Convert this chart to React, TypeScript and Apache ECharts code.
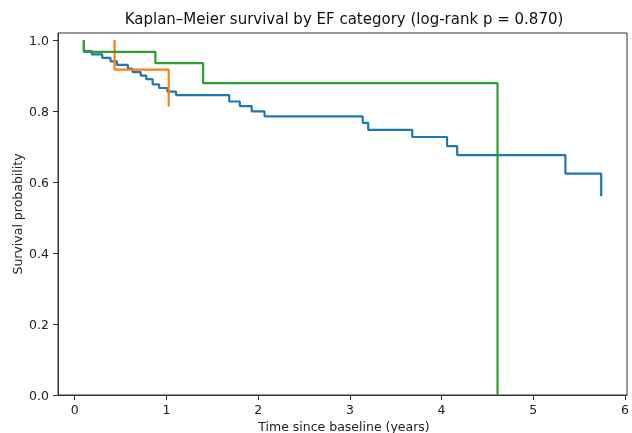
import React, { useEffect, useRef } from "react";
import * as echarts from "echarts";

const titleText = "Kaplan–Meier survival by EF category (log-rank p = 0.870)";
const xLabel = "Time since baseline (years)";
const yLabel = "Survival probability";

const xTicks = [0, 1, 2, 3, 4, 5, 6];
const yTicks = [0, 0.2, 0.4, 0.6, 0.8, 1.0];

// Blue group (C0)
const blueTimes = [0.10, 0.10, 0.185, 0.30, 0.39, 0.46, 0.58, 0.63, 0.72, 0.78, 0.85, 0.92, 1.01, 1.105, 1.685, 1.80, 1.93, 2.07, 3.14, 3.20, 3.68, 4.06, 4.17, 5.35, 5.74];
const blueSurv = [1.0, 0.969, 0.96, 0.95, 0.94, 0.93, 0.92, 0.91, 0.90, 0.89, 0.875, 0.865, 0.855, 0.845, 0.827, 0.814, 0.799, 0.785, 0.767, 0.747, 0.727, 0.701, 0.676, 0.624, 0.56];

// Orange group (C1)
const orangeTimes = [0.435, 0.435, 1.025];
const orangeSurv = [1.0, 0.917, 0.813];

// Green group (C2)
const greenTimes = [0.10, 0.10, 0.88, 1.40, 4.61];
const greenSurv = [1.0, 0.967, 0.935, 0.879, 0.0];

const FONT = "DejaVu Sans";

function pairs(t: number[], s: number[]) {
  return t.map((v, i) => [v, s[i]]);
}

export default function App() {
  const ref = useRef<HTMLDivElement>(null);
  useEffect(() => {
    if (!ref.current) return;
    const chart = echarts.init(ref.current, undefined, { renderer: "svg" });
    const mk = (name: string, data: number[][], color: string) => ({
      name,
      type: "line",
      step: "end",
      data,
      showSymbol: false,
      symbol: "none",
      lineStyle: { width: 2.2, color },
      itemStyle: { color },
      z: 2,
    });
    chart.setOption({
      animation: false,
      textStyle: { fontFamily: FONT },
      grid: {
        left: 58,
        right: 4,
        top: 33,
        bottom: 38,
        show: true,
        borderColor: "#333",
        borderWidth: 1,
        backgroundColor: "transparent",
        containLabel: false,
      },
      xAxis: {
        type: "value",
        min: -0.182,
        max: 6.022,
        splitLine: { show: false },
        axisLine: { show: true, onZero: false, lineStyle: { color: "#333", width: 1 } },
        axisTick: { show: true, inside: false, length: 5, customValues: xTicks, lineStyle: { color: "#333" } },
        axisLabel: {
          customValues: xTicks,
          margin: 8,
          fontSize: 12.5,
          color: "#222",
          fontFamily: FONT,
          formatter: (v: number) => String(v),
        },
      },
      yAxis: {
        type: "value",
        min: 0,
        max: 1.02,
        splitLine: { show: false },
        axisLine: { show: true, onZero: false, lineStyle: { color: "#333", width: 1 } },
        axisTick: { show: true, inside: false, length: 5, customValues: yTicks, lineStyle: { color: "#333" } },
        axisLabel: {
          customValues: yTicks,
          margin: 9,
          fontSize: 12.5,
          color: "#222",
          fontFamily: FONT,
          formatter: (v: number) => v.toFixed(1),
        },
      },
      series: [
        mk("Blue", pairs(blueTimes, blueSurv), "#1f77b4"),
        mk("Orange", pairs(orangeTimes, orangeSurv), "#ff7f0e"),
        mk("Green", pairs(greenTimes, greenSurv), "#2ca02c"),
      ],
      graphic: [
        {
          type: "text",
          x: 344,
          y: 19,
          style: {
            text: titleText,
            fontSize: 15,
            fontFamily: FONT,
            fill: "#111",
            align: "center",
            verticalAlign: "middle",
          },
        },
        {
          type: "text",
          x: 344,
          y: 426,
          style: {
            text: xLabel,
            fontSize: 12.5,
            fontFamily: FONT,
            fill: "#222",
            align: "center",
            verticalAlign: "middle",
          },
        },
        {
          type: "text",
          x: 17,
          y: 214,
          rotation: Math.PI / 2,
          style: {
            text: yLabel,
            fontSize: 12.5,
            fontFamily: FONT,
            fill: "#222",
            align: "center",
            verticalAlign: "middle",
          },
        },
      ],
    });
    return () => chart.dispose();
  }, []);
  return (
    <div
      ref={ref}
      style={{ position: "fixed", left: 0, top: 0, width: 632, height: 433 }}
    />
  );
}
